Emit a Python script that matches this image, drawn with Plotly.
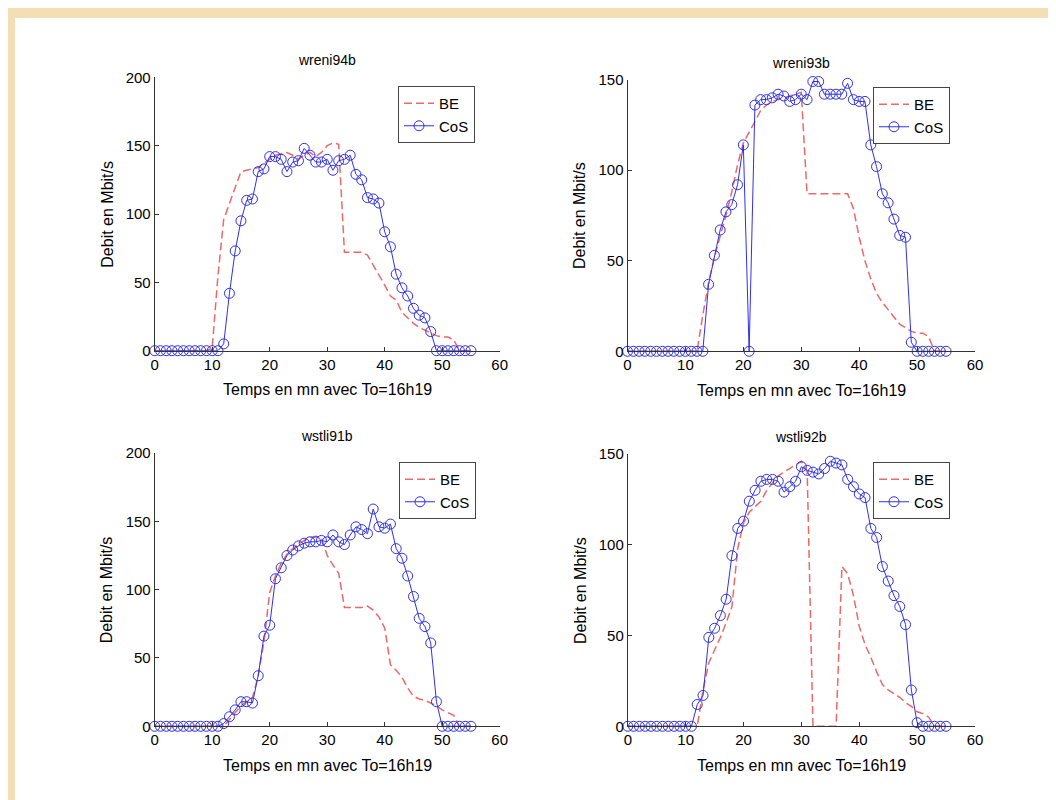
import plotly.graph_objects as go

W, H = 1056, 800

minutes = list(range(56))
x_ticks = [0, 10, 20, 30, 40, 50, 60]

titles = ["wreni94b", "wreni93b", "wstli91b", "wstli92b"]
y_max = [200, 150, 200, 150]
x_label = "Temps en mn avec To=16h19"
y_label = "Debit en Mbit/s"

cos_wreni94b = [0]*12 + [5, 42, 73, 95, 110, 111, 131, 133, 142, 142, 140, 131, 138, 139, 148,
                         143, 138, 138, 140, 132, 139, 140, 143, 129, 125, 112, 111, 108, 87, 76,
                         56, 46, 40, 31, 26, 24, 14] + [0]*7
be_wreni94b = [0]*10 + [2, 55, 96, 108, 120, 131, 132, 133, 134, 137, 140, 143, 144, 145, 143,
                        140, 143, 145, 142, 145, 150, 152, 151, 72, 72, 72, 72, 70, 63, 56, 48,
                        40, 37, 28, 24, 20, 17, 15, 13, 11, 10, 10, 8] + [0]*3

cos_wreni93b = [0]*14 + [37, 53, 67, 77, 81, 92, 114, 0, 136, 139, 139, 140, 142, 141, 138, 139,
                         142, 139, 149, 149, 142, 142, 142, 142, 148, 139, 138, 138, 114, 102, 87,
                         82, 73, 64, 63, 5] + [0]*6
be_wreni93b = [0]*13 + [20, 38, 52, 63, 75, 88, 103, 115, 121, 127, 133, 136, 138, 139, 140, 141,
                        142, 143, 87, 87, 87, 87, 87, 87, 87, 87, 79, 63, 50, 40, 32, 27, 23, 19,
                        15, 13, 11, 10, 10, 8] + [0]*3

cos_wstli91b = [0]*12 + [2, 7, 12, 18, 18, 17, 37, 66, 74, 108, 116, 125, 129, 132, 134, 135, 135,
                         136, 135, 140, 135, 133, 140, 146, 144, 141, 159, 146, 145, 148, 130, 123,
                         110, 95, 79, 73, 61, 18] + [0]*6
be_wstli91b = [0]*13 + [5, 10, 15, 18, 21, 37, 62, 98, 110, 119, 126, 130, 133, 136, 138, 139, 138,
                        125, 118, 112, 87, 87, 87, 87, 88, 85, 80, 72, 45, 41, 36, 28, 22, 20, 19,
                        17, 15, 12, 10, 8] + [0]*3

cos_wstli92b = [0]*12 + [12, 17, 49, 54, 61, 70, 94, 109, 113, 124, 130, 135, 136, 136, 135, 129,
                         132, 135, 143, 141, 140, 139, 142, 146, 145, 144, 136, 132, 128, 126, 109,
                         104, 88, 80, 72, 66, 56, 20, 2] + [0]*5
be_wstli92b = [0]*13 + [20, 35, 42, 49, 57, 66, 98, 112, 118, 121, 124, 130, 134, 138, 140, 142,
                        144, 146, 140, 0, 0, 0, 0, 0, 88, 84, 72, 55, 45, 38, 30, 23, 20, 18, 16,
                        13, 11, 8, 7, 5] + [0]*3

cos_series = [cos_wreni94b, cos_wreni93b, cos_wstli91b, cos_wstli92b]
be_series = [be_wreni94b, be_wreni93b, be_wstli91b, be_wstli92b]

# panel geometry in pixels: (x_left, x_right, y_top, y_bottom)
panels = [
    (146.7, 491.7, 69.3, 342.7),
    (619.5, 967.0, 71.7, 343.3),
    (146.7, 491.7, 445.0, 718.3),
    (619.8, 967.0, 446.0, 718.3),
]
legend_pos = [(390, 78), (865, 79), (391, 454), (865, 454)]

FONT = "Liberation Sans, Arial, sans-serif"
RED = "#EE6868"
BLUE = "#3030E8"
AXC = "#333333"
TXT = "#000000"

fig = go.Figure()
layout = dict(
    width=W, height=H,
    margin=dict(l=0, r=0, t=0, b=0),
    paper_bgcolor="#F5DEB3",
    plot_bgcolor="rgba(0,0,0,0)",
    font=dict(family=FONT, size=14, color=TXT),
    showlegend=True,
    shapes=[dict(type="rect", xref="paper", yref="paper", x0=7/W, x1=1.01, y0=-0.01, y1=1-10/H,
                 fillcolor="white", line=dict(width=0), layer="below")],
    annotations=[],
)

for i in range(4):
    n = "" if i == 0 else str(i + 1)
    xl, xr, yt, yb = panels[i]
    lg = "legend" if i == 0 else f"legend{i+1}"
    fig.add_trace(go.Scatter(
        x=minutes, y=be_series[i], mode="lines", name="BE",
        line=dict(color=RED, width=1.5, dash="8px,4px"),
        xaxis="x" + n, yaxis="y" + n, legend=lg, cliponaxis=False))
    fig.add_trace(go.Scatter(
        x=minutes, y=cos_series[i], mode="lines+markers", name="CoS",
        line=dict(color=BLUE, width=1),
        marker=dict(symbol="circle-open", size=10, color=BLUE, line=dict(width=1, color=BLUE)),
        xaxis="x" + n, yaxis="y" + n, legend=lg, cliponaxis=False))

    axcommon = dict(showgrid=False, zeroline=False, showline=True, linecolor=AXC, linewidth=1,
                    ticks="inside", ticklen=4, tickcolor=AXC, mirror=False,
                    tickfont=dict(family=FONT, size=15, color=TXT), automargin=False)
    layout["xaxis" + n] = dict(domain=[xl / W, xr / W], range=[0, 60], tickvals=x_ticks,
                               anchor="y" + n, **axcommon)
    layout["yaxis" + n] = dict(domain=[1 - yb / H, 1 - yt / H], range=[0, y_max[i]], dtick=50,
                               anchor="x" + n, **axcommon)
    lx, ly = legend_pos[i]
    layout[lg] = dict(x=lx / W, y=1 - ly / H, xanchor="left", yanchor="top",
                      bgcolor="white", bordercolor="#444", borderwidth=1,
                      font=dict(family=FONT, size=15, color=TXT), tracegroupgap=0)

    cx = (xl + xr) / 2
    layout["annotations"].append(dict(text=titles[i], x=cx / W, y=1 - (yt - 17) / H, xref="paper",
                                      yref="paper", showarrow=False, xanchor="center",
                                      yanchor="middle", font=dict(size=14, color=TXT)))
    layout["annotations"].append(dict(text=x_label, x=cx / W, y=1 - (yb + 39) / H, xref="paper",
                                      yref="paper", showarrow=False, xanchor="center",
                                      yanchor="middle", font=dict(size=16, color=TXT)))
    layout["annotations"].append(dict(text=y_label, x=(xl - 48) / W, y=1 - ((yt + yb) / 2) / H,
                                      xref="paper", yref="paper", showarrow=False,
                                      xanchor="center", yanchor="middle", textangle=-90,
                                      font=dict(size=16, color=TXT)))

fig.update_layout(**layout)
fig.write_html("out.html")
